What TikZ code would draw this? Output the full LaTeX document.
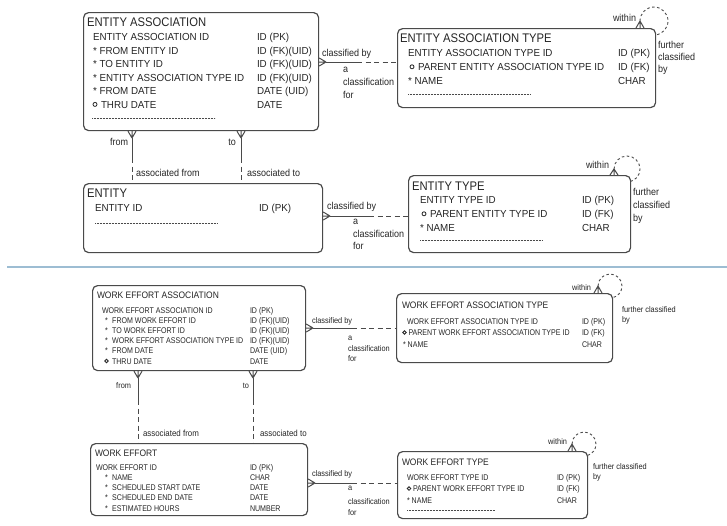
\documentclass[tikz,border=0pt]{standalone}
\usepackage{fontspec}
\setmainfont{Liberation Sans}
\newfontfamily\erRowFont{Liberation Sans}[FakeStretch=0.96]
\newfontfamily\erTitleFont{Liberation Sans}[FakeStretch=0.9]
\newfontfamily\erNarrowFont{Liberation Sans}[FakeStretch=0.85]
\newfontfamily\erLabelFont{Liberation Sans}[FakeStretch=0.9]
\usetikzlibrary{calc}
\definecolor{boxc}{HTML}{4A4A4A}
\definecolor{txtc}{HTML}{262626}
\definecolor{sepc}{HTML}{9DBDD3}
% crow's foot: #1 = tip on the connector, #2 = point on the entity border
\newcommand\crowsfoot[2]{%
  \draw[conn] (#1) -- (#2) (#1) -- ($(#2)!4pt!90:(#1)$) (#1) -- ($(#2)!4pt!-90:(#1)$);}
\begin{document}
\begin{tikzpicture}[x=1pt,y=-1pt,
  erbox/.style={draw=boxc, line width=1.2pt, rounded corners=5pt, anchor=north west, inner sep=0pt},
  conn/.style={draw=boxc, line width=1pt},
  dashpart/.style={dash pattern=on 5pt off 3.5pt},
  loopdash/.style={draw=boxc, line width=0.9pt, dash pattern=on 2.5pt off 2.5pt},
  dotln/.style={draw=boxc, line width=0.5pt, dash pattern=on 0.6pt off 0.9pt},
  ocirc/.style={draw=txtc, line width=0.8pt},
  ertx/.style={anchor=base west, inner sep=0pt, outer sep=0pt, text=txtc},
  ertrow/.style={ertx, font=\erRowFont\fontsize{10.2}{12}\selectfont},
  erttitle/.style={ertx, font=\erTitleFont\fontsize{12.5}{14}\selectfont},
  erbrow/.style={ertx, font=\erNarrowFont\fontsize{8.3}{10}\selectfont},
  erbtitle/.style={ertx, font=\erTitleFont\fontsize{9.4}{11}\selectfont},
  ertlab/.style={ertx, font=\erLabelFont\fontsize{10}{12}\selectfont},
  erblab/.style={ertx, font=\erLabelFont\fontsize{8.2}{10}\selectfont},
  erbalab/.style={ertx, font=\erLabelFont\fontsize{8.8}{10}\selectfont}]
\useasboundingbox (0,0) rectangle (727,525);
\fill[white] (0,0) rectangle (727,525);

% section separator
\draw[sepc, line width=1.3pt] (7,267) -- (727,267);

% ---------------- entity boxes ----------------
\node[erbox, minimum width=235pt, minimum height=118pt] (ea) at (83,12) {};
\node[erbox, minimum width=258pt, minimum height=79pt] (eat) at (397,28) {};
\node[erbox, minimum width=239pt, minimum height=69pt] (ent) at (83,183) {};
\node[erbox, minimum width=222pt, minimum height=77pt] (et) at (408,175) {};
\node[erbox, minimum width=213pt, minimum height=85pt] (wea) at (92,285) {};
\node[erbox, minimum width=216pt, minimum height=69pt] (weat) at (396,293) {};
\node[erbox, minimum width=217pt, minimum height=72pt] (we) at (90,443) {};
\node[erbox, minimum width=190pt, minimum height=67pt] (wet) at (397,451) {};

% ---------------- ENTITY ASSOCIATION ----------------
\node[erttitle] (ea-title) at (87,26) {ENTITY ASSOCIATION};
\node[ertrow] (ea-r1) at (93,40.5) {ENTITY ASSOCIATION ID};
\node[ertrow] (ea-r2) at (93,54) {* FROM ENTITY ID};
\node[ertrow] (ea-r3) at (93,67.5) {* TO ENTITY ID};
\node[ertrow] (ea-r4) at (93,81) {* ENTITY ASSOCIATION TYPE ID};
\node[ertrow] (ea-r5) at (93,94.5) {* FROM DATE};
\draw[ocirc] (95,104.4) circle[radius=2pt];
\node[ertrow] (ea-r6) at (101,108) {THRU DATE};
\node[ertrow] (ea-t1) at (257,40.5) {ID (PK)};
\node[ertrow] (ea-t2) at (257,54) {ID (FK)(UID)};
\node[ertrow] (ea-t3) at (257,67.5) {ID (FK)(UID)};
\node[ertrow] (ea-t4) at (257,81) {ID (FK)(UID)};
\node[ertrow] (ea-t5) at (257,94.5) {DATE (UID)};
\node[ertrow] (ea-t6) at (257,108) {DATE};
\draw[dotln] (92,118) -- (215,118);

% ---------------- ENTITY ASSOCIATION TYPE ----------------
\node[erttitle] (eat-title) at (400,42) {ENTITY ASSOCIATION TYPE};
\node[ertrow] (eat-r1) at (408,56.5) {ENTITY ASSOCIATION TYPE ID};
\draw[ocirc] (412,66.8) circle[radius=2pt];
\node[ertrow] (eat-r2) at (418,70.5) {PARENT ENTITY ASSOCIATION TYPE ID};
\node[ertrow] (eat-r3) at (408,84.5) {* NAME};
\node[ertrow] (eat-t1) at (618,56.5) {ID (PK)};
\node[ertrow] (eat-t2) at (618,70.5) {ID (FK)};
\node[ertrow] (eat-t3) at (618,84.5) {CHAR};
\draw[dotln] (408,94) -- (530,94);

% ---------------- ENTITY ----------------
\node[erttitle] (ent-title) at (87,197.5) {ENTITY};
\node[ertrow] (ent-r1) at (95,211) {ENTITY ID};
\node[ertrow] (ent-t1) at (259,211) {ID (PK)};
\draw[dotln] (95,223) -- (217,223);

% ---------------- ENTITY TYPE ----------------
\node[erttitle] (et-title) at (412,190) {ENTITY TYPE};
\node[ertrow] (et-r1) at (420,203.5) {ENTITY TYPE ID};
\draw[ocirc] (424,213.8) circle[radius=2pt];
\node[ertrow] (et-r2) at (430,217.5) {PARENT ENTITY TYPE ID};
\node[ertrow] (et-r3) at (420,231.5) {* NAME};
\node[ertrow] (et-t1) at (582,203.5) {ID (PK)};
\node[ertrow] (et-t2) at (582,217.5) {ID (FK)};
\node[ertrow] (et-t3) at (582,231.5) {CHAR};
\draw[dotln] (420,240) -- (542,240);

% ---------------- WORK EFFORT ASSOCIATION ----------------
\node[erbtitle] (wea-title) at (97,298.5) {WORK EFFORT ASSOCIATION};
\node[erbrow] (wea-r1) at (102,313) {WORK EFFORT ASSOCIATION ID};
\node[erbrow] (wea-r2) at (105,323.2) {*\hspace{2.5pt} FROM WORK EFFORT ID};
\node[erbrow] (wea-r3) at (105,333.4) {*\hspace{2.5pt} TO WORK EFFORT ID};
\node[erbrow] (wea-r4) at (105,343.6) {*\hspace{2.5pt} WORK EFFORT ASSOCIATION TYPE ID};
\node[erbrow] (wea-r5) at (105,353.8) {*\hspace{2.5pt} FROM DATE};
\draw[ocirc] (106.5,361) circle[radius=1.8pt];
\node[erbrow] (wea-r6) at (112,364) {THRU DATE};
\node[erbrow] (wea-t1) at (250,313) {ID (PK)};
\node[erbrow] (wea-t2) at (250,323.2) {ID (FK)(UID)};
\node[erbrow] (wea-t3) at (250,333.4) {ID (FK)(UID)};
\node[erbrow] (wea-t4) at (250,343.6) {ID (FK)(UID)};
\node[erbrow] (wea-t5) at (250,353.8) {DATE (UID)};
\node[erbrow] (wea-t6) at (250,364) {DATE};

% ---------------- WORK EFFORT ASSOCIATION TYPE ----------------
\node[erbtitle] (weat-title) at (402,308.3) {WORK EFFORT ASSOCIATION TYPE};
\node[erbrow] (weat-r1) at (407,324) {WORK EFFORT ASSOCIATION TYPE ID};
\draw[ocirc] (404.5,332.5) circle[radius=1.8pt];
\node[erbrow] (weat-r2) at (408.5,335.5) {PARENT WORK EFFORT ASSOCIATION TYPE ID};
\node[erbrow] (weat-r3) at (403,347) {* NAME};
\node[erbrow] (weat-t1) at (582,324) {ID (PK)};
\node[erbrow] (weat-t2) at (582,335.5) {ID (FK)};
\node[erbrow] (weat-t3) at (582,347) {CHAR};

% ---------------- WORK EFFORT ----------------
\node[erbtitle] (we-title) at (95,456) {WORK EFFORT};
\node[erbrow] (we-r1) at (96,470) {WORK EFFORT ID};
\node[erbrow] (we-r2) at (105,480.3) {*\hspace{2.5pt} NAME};
\node[erbrow] (we-r3) at (105,490.6) {*\hspace{2.5pt} SCHEDULED START DATE};
\node[erbrow] (we-r4) at (105,500.9) {*\hspace{2.5pt} SCHEDULED END DATE};
\node[erbrow] (we-r5) at (105,511.2) {*\hspace{2.5pt} ESTIMATED HOURS};
\node[erbrow] (we-t1) at (250,470) {ID (PK)};
\node[erbrow] (we-t2) at (250,480.3) {CHAR};
\node[erbrow] (we-t3) at (250,490.6) {DATE};
\node[erbrow] (we-t4) at (250,500.9) {DATE};
\node[erbrow] (we-t5) at (250,511.2) {NUMBER};

% ---------------- WORK EFFORT TYPE ----------------
\node[erbtitle] (wet-title) at (402,465.7) {WORK EFFORT TYPE};
\node[erbrow] (wet-r1) at (407,480) {WORK EFFORT TYPE ID};
\draw[ocirc] (409,488.5) circle[radius=1.8pt];
\node[erbrow] (wet-r2) at (413,491.5) {PARENT WORK EFFORT TYPE ID};
\node[erbrow] (wet-r3) at (407,503) {* NAME};
\node[erbrow] (wet-t1) at (557,480) {ID (PK)};
\node[erbrow] (wet-t2) at (557,491.5) {ID (FK)};
\node[erbrow] (wet-t3) at (557,503) {CHAR};
\draw[dotln] (407,510) -- (495,510);

% ================= relationships, top section =================
% entity association -> entity association type
\coordinate (ea-c) at (ea.east |- 0,62);
\coordinate (ea-ct) at (326,62);
\coordinate (ea-cm) at (357,62);
\crowsfoot{ea-ct}{ea-c}
\draw[conn] (ea-ct) -- (ea-cm);
\draw[conn, dashpart] (ea-cm) -- (eat.west |- ea-cm);
\node[ertlab] (l1) at (322,56) {classified by};
\node[ertlab] (l2) at (343,72.5) {a};
\node[ertlab] (l3) at (343,85.5) {classification};
\node[ertlab] (l4) at (343,98) {for};

% entity association type, recursive
\coordinate (eat-s) at (640,0 |- eat.north);
\coordinate (eat-st) at (640,21);
\crowsfoot{eat-st}{eat-s}
\draw[loopdash] (eat-st) arc[start angle=180, end angle=-86, radius=14pt];
\node[ertlab, anchor=base east] (l5) at (636,21) {within};
\node[ertlab] (l6) at (658,48) {further};
\node[ertlab] (l7) at (658,60) {classified};
\node[ertlab] (l8) at (658,72) {by};

% entity association -> entity (from / to)
\coordinate (ea-f) at (132,0 |- ea.south);
\coordinate (ea-ft) at (132,138);
\coordinate (ea-fm) at (132,158);
\crowsfoot{ea-ft}{ea-f}
\draw[conn] (ea-ft) -- (ea-fm);
\draw[conn, dashpart] (ea-fm) -- (ea-fm |- ent.north);
\coordinate (ea-o) at (241,0 |- ea.south);
\coordinate (ea-ot) at (241,138);
\coordinate (ea-om) at (241,158);
\crowsfoot{ea-ot}{ea-o}
\draw[conn] (ea-ot) -- (ea-om);
\draw[conn, dashpart] (ea-om) -- (ea-om |- ent.north);
\node[ertlab, anchor=base east] (l9) at (128,145) {from};
\node[ertlab, anchor=base east] (l10) at (236,145) {to};
\node[ertlab] (l11) at (136,176) {associated from};
\node[ertlab] (l12) at (247,176) {associated to};

% entity -> entity type
\coordinate (ent-c) at (ent.east |- 0,216);
\coordinate (ent-ct) at (330,216);
\coordinate (ent-cm) at (369,216);
\crowsfoot{ent-ct}{ent-c}
\draw[conn] (ent-ct) -- (ent-cm);
\draw[conn, dashpart] (ent-cm) -- (et.west |- ent-cm);
\node[ertlab] (l13) at (327,209) {classified by};
\node[ertlab] (l14) at (353,224.5) {a};
\node[ertlab] (l15) at (353,237) {classification};
\node[ertlab] (l16) at (353,249.5) {for};

% entity type, recursive
\coordinate (et-s) at (614,0 |- et.north);
\coordinate (et-st) at (614,169);
\crowsfoot{et-st}{et-s}
\draw[loopdash] (et-st) arc[start angle=180, end angle=-77, radius=13pt];
\node[ertlab, anchor=base east] (l17) at (609,168) {within};
\node[ertlab] (l18) at (633,195) {further};
\node[ertlab] (l19) at (633,208) {classified};
\node[ertlab] (l20) at (633,221) {by};

% ================= relationships, bottom section =================
% work effort association -> work effort association type
\coordinate (wea-c) at (wea.east |- 0,328);
\coordinate (wea-ct) at (313,328);
\coordinate (wea-cm) at (352,328);
\crowsfoot{wea-ct}{wea-c}
\draw[conn] (wea-ct) -- (wea-cm);
\draw[conn, dashpart] (wea-cm) -- (weat.west |- wea-cm);
\node[erblab] (l21) at (312,323) {classified by};
\node[erblab] (l22) at (348,340.5) {a};
\node[erblab] (l23) at (348,351.5) {classification};
\node[erblab] (l24) at (348,361.5) {for};

% work effort association type, recursive
\coordinate (weat-s) at (598,0 |- weat.north);
\coordinate (weat-st) at (598,286);
\crowsfoot{weat-st}{weat-s}
\draw[loopdash] (weat-st) arc[start angle=180, end angle=-80, radius=12pt];
\node[erblab, anchor=base east] (l25) at (591,290) {within};
\node[erblab] (l26) at (622,312) {further classified};
\node[erblab] (l27) at (622,322) {by};

% work effort association -> work effort (from / to)
\coordinate (wea-f) at (138,0 |- wea.south);
\coordinate (wea-ft) at (138,378);
\coordinate (wea-fm) at (138,400);
\crowsfoot{wea-ft}{wea-f}
\draw[conn] (wea-ft) -- (wea-fm);
\draw[conn, dashpart] (wea-fm) -- (wea-fm |- we.north);
\coordinate (wea-o) at (253,0 |- wea.south);
\coordinate (wea-ot) at (253,378);
\coordinate (wea-om) at (253,400);
\crowsfoot{wea-ot}{wea-o}
\draw[conn] (wea-ot) -- (wea-om);
\draw[conn, dashpart] (wea-om) -- (wea-om |- we.north);
\node[erblab, anchor=base east] (l28) at (131,388) {from};
\node[erblab, anchor=base east] (l29) at (249,388) {to};
\node[erbalab] (l30) at (143,436) {associated from};
\node[erbalab] (l31) at (260,436) {associated to};

% work effort -> work effort type
\coordinate (we-c) at (we.east |- 0,483);
\coordinate (we-ct) at (315,483);
\coordinate (we-cm) at (352,483);
\crowsfoot{we-ct}{we-c}
\draw[conn] (we-ct) -- (we-cm);
\draw[conn, dashpart] (we-cm) -- (wet.west |- we-cm);
\node[erblab] (l32) at (312,476) {classified by};
\node[erblab] (l33) at (348,490.5) {a};
\node[erblab] (l34) at (348,504) {classification};
\node[erblab] (l35) at (348,515) {for};

% work effort type, recursive
\coordinate (wet-s) at (572,0 |- wet.north);
\coordinate (wet-st) at (572,444);
\crowsfoot{wet-st}{wet-s}
\draw[loopdash] (wet-st) arc[start angle=180, end angle=-76, radius=12pt];
\node[erblab, anchor=base east] (l36) at (567,444) {within};
\node[erblab] (l37) at (593,469) {further classified};
\node[erblab] (l38) at (593,479) {by};
\end{tikzpicture}
\end{document}
